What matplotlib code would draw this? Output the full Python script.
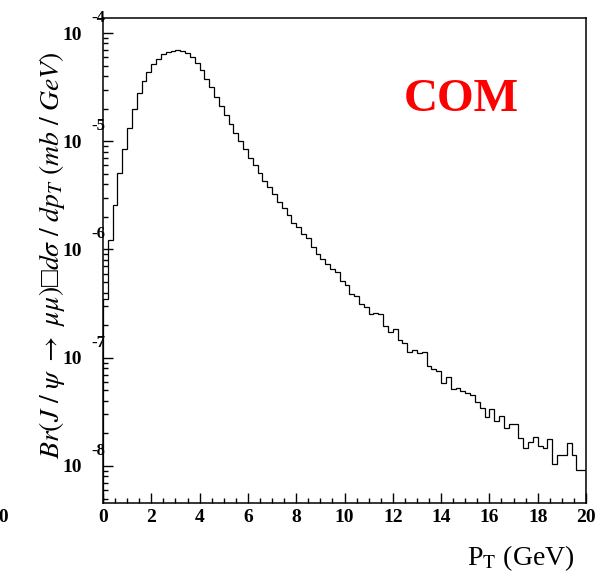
import numpy as np
import matplotlib
matplotlib.use("Agg")
import matplotlib.pyplot as plt
from matplotlib import transforms
from matplotlib.ticker import LogLocator, MultipleLocator, NullFormatter, FixedLocator

plt.rcParams["mathtext.fontset"] = "stix"
plt.rcParams["font.family"] = ["Liberation Serif", "DejaVu Serif"]

# ---- data ----
pt_min, pt_max, bin_width = 0.0, 20.0, 0.2
dsigma = [
    3.51e-7, 1.22e-6, 2.58e-6, 5.12e-6, 8.43e-6, 1.33e-5, 1.99e-5, 2.77e-5, 3.58e-5, 4.39e-5,
    5.17e-5, 5.79e-5, 6.36e-5, 6.72e-5, 6.86e-5, 6.92e-5, 6.86e-5, 6.58e-5, 6.04e-5, 5.32e-5,
    4.55e-5, 3.78e-5, 3.15e-5, 2.55e-5, 2.12e-5, 1.74e-5, 1.44e-5, 1.20e-5, 1.01e-5, 8.48e-6,
    7.05e-6, 5.99e-6, 5.06e-6, 4.29e-6, 3.80e-6, 3.24e-6, 2.76e-6, 2.43e-6, 2.08e-6, 1.75e-6,
    1.60e-6, 1.39e-6, 1.27e-6, 1.05e-6, 9.15e-7, 8.22e-7, 7.35e-7, 6.56e-7, 6.20e-7, 5.17e-7,
    4.67e-7, 3.91e-7, 3.70e-7, 3.14e-7, 2.92e-7, 2.55e-7, 2.57e-7, 2.52e-7, 1.95e-7, 1.73e-7,
    1.84e-7, 1.46e-7, 1.38e-7, 1.12e-7, 1.18e-7, 1.11e-7, 1.14e-7, 8.36e-8, 7.87e-8, 7.59e-8,
    5.81e-8, 6.68e-8, 5.11e-8, 5.22e-8, 4.96e-8, 4.75e-8, 4.50e-8, 3.93e-8, 3.41e-8, 2.85e-8,
    3.34e-8, 2.60e-8, 2.91e-8, 2.23e-8, 2.46e-8, 2.46e-8, 1.80e-8, 1.46e-8, 1.68e-8, 1.87e-8,
    1.54e-8, 1.46e-8, 1.76e-8, 1.04e-8, 1.26e-8, 1.26e-8, 1.62e-8, 1.26e-8, 9.13e-9, 9.13e-9,
]
x_ticks = [0, 2, 4, 6, 8, 10, 12, 14, 16, 18, 20]
y_decades = [-8, -7, -6, -5, -4]
y_limits = (4.55e-9, 1.376e-4)
model_label = "COM"

# ---- figure ----
W, H, DPI = 597, 576, 100
fig = plt.figure(figsize=(W / DPI, H / DPI), dpi=DPI)
ax = fig.add_axes([103 / W, 1 - 503 / H, (586 - 103) / W, (503 - 18) / H])

edges = np.arange(pt_min, pt_max + bin_width / 2, bin_width)
ax.stairs(dsigma, edges, baseline=1e-12, color="black", linewidth=0.9)

ax.set_yscale("log")
ax.set_xlim(pt_min, pt_max)
ax.set_ylim(*y_limits)

for s in ax.spines.values():
    s.set_linewidth(1.1)
    s.set_color("black")

ax.xaxis.set_major_locator(FixedLocator(x_ticks))
ax.xaxis.set_minor_locator(MultipleLocator(0.5))
ax.yaxis.set_major_locator(FixedLocator([10.0 ** d for d in y_decades]))
ax.yaxis.set_minor_locator(LogLocator(base=10, subs=np.arange(2, 10)))
ax.yaxis.set_major_formatter(NullFormatter())
ax.yaxis.set_minor_formatter(NullFormatter())
ax.tick_params(which="both", direction="in", top=False, right=False, width=1.0, color="black")
ax.tick_params(which="major", length=7)
ax.tick_params(which="minor", length=3.8)
ax.tick_params(axis="x", which="major", labelsize=14, pad=4)
for lab in ax.get_xticklabels():
    lab.set_fontweight("bold")

# y tick labels in ROOT style: "10" with raised exponent
trans = transforms.blended_transform_factory(ax.transAxes, ax.transData)
for d in y_decades:
    base_t = transforms.offset_copy(trans, fig=fig, x=-21, y=-2, units="dots")
    ax.text(0, 10.0 ** d, "10", transform=base_t, ha="right", va="center",
            fontsize=14, fontweight="bold", clip_on=False)
    exp_t = transforms.offset_copy(trans, fig=fig, x=-12, y=15, units="dots")
    ax.text(0, 10.0 ** d, str(d), transform=exp_t, ha="left", va="center",
            fontsize=12, fontweight="bold", clip_on=False)

# labels
ylab = r"$Br(J\ /\ \psi\ \rightarrow\ \mu\mu)$" + "\u25a1" + r"$d\sigma\ /\ dp_{T}\ (mb\ /\ GeV)$"
fig.text(52 / W, 1 - 255 / H, ylab, rotation=90, ha="center", va="center", fontsize=20)
fig.text(574 / W, 1 - 558 / H, r"P$_{\rm T}$ (GeV)", ha="right", va="center", fontsize=20)

ax.text(461 / W, 1 - 100 / H, model_label, transform=fig.transFigure, ha="center", va="center",
        fontsize=34, fontweight="bold", color="red")

# cut-off neighbouring label at left edge
fig.text(9 / W, 1 - 518 / H, "20", ha="right", va="center", fontsize=14, fontweight="bold")

fig.savefig("out.png", dpi=DPI)
